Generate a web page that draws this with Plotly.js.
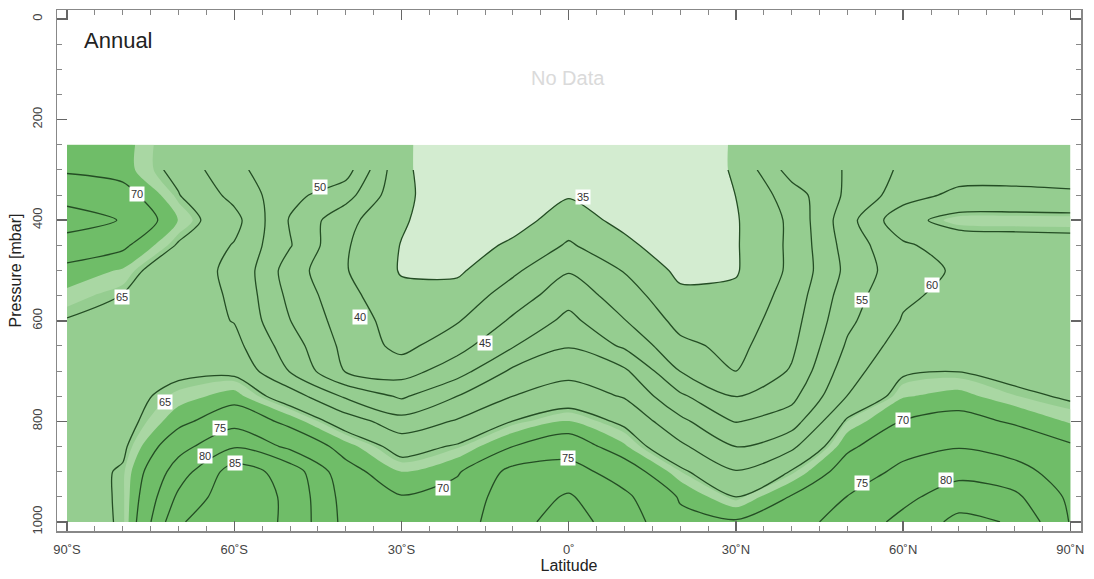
<!DOCTYPE html>
<html>
<head>
<meta charset="utf-8">
<script src="https://cdn.plot.ly/plotly-3.0.1.min.js"></script>
<style>html,body{margin:0;padding:0;background:#fff}#chart{width:1094px;height:579px}</style>
</head>
<body>
<div id="chart"></div>
<script>
// Latitude columns (deg, negative = south) and pressure rows (mbar)
const latitudes = [-90, -80, -70, -60, -50, -40, -30, -20, -10, 0, 10, 20, 30, 40, 50, 60, 70, 80, 90];
const pressureLevels = [300, 350, 400, 450, 500, 550, 600, 650, 700, 750, 800, 850, 900, 950, 1000];

// Annual field values, one array per pressure level
const p300  = [69.5, 68.3, 63.8, 55.7, 53.0, 52.2, 35.8, 32.0, 32.0, 32.0, 32.0, 32.0, 35.5, 47.3, 50.3, 56.0, 57.0, 57.3, 57.5];
const p350  = [73.0, 71.8, 65.2, 58.5, 51.5, 47.0, 36.0, 32.0, 33.0, 34.6, 32.5, 31.5, 35.05, 42.5, 51.0, 57.5, 61.5, 61.5, 60.8];
const p400  = [77.5, 74.7, 67.2, 61.7, 49.6, 41.5, 35.6, 31.5, 33.0, 37.5, 33.5, 31.5, 34.6, 41.0, 53.1, 63.7, 66.6, 66.7, 66.7];
const p450  = [72.5, 70.8, 64.6, 59.65, 50.35, 40.5, 34.8, 32.5, 35.9, 40.6, 36.3, 31.5, 34.6, 41.0, 52.1, 59.2, 62.5, 63.0, 63.4];
const p500  = [68.9, 67.0, 61.4, 59.4, 47.5, 40.3, 34.6, 34.2, 39.1, 44.6, 39.7, 33.8, 34.6, 41.0, 51.3, 58.15, 60.6, 61.5, 62.0];
const p550  = [66.6, 64.9, 62.0, 59.5, 48.7, 41.5, 36.3, 36.9, 42.4, 48.0, 42.5, 36.1, 36.0, 42.0, 52.7, 59.2, 61.4, 61.8, 61.8];
const p600  = [64.8, 64.2, 62.5, 59.8, 50.1, 42.5, 37.8, 39.6, 45.8, 51.4, 45.2, 38.4, 37.3, 43.0, 53.9, 60.4, 62.3, 62.2, 62.0];
const p650  = [64.2, 63.8, 63.3, 61.6, 52.4, 43.5, 38.5, 43.2, 49.7, 54.7, 49.2, 41.2, 38.6, 44.0, 55.7, 62.4, 63.3, 62.8, 62.5];
const p700  = [63.8, 63.6, 64.2, 64.1, 54.7, 44.6, 42.8, 47.8, 56.0, 58.4, 55.9, 44.9, 40.0, 45.5, 57.9, 64.4, 64.9, 63.7, 63.3];
const p750  = [63.5, 63.6, 66.3, 68.3, 62.6, 54.2, 49.2, 55.0, 60.0, 62.7, 59.6, 50.9, 44.7, 48.6, 60.1, 67.1, 68.1, 65.9, 64.5];
const p800  = [63.3, 63.5, 68.8, 73.2, 68.8, 62.8, 56.9, 60.5, 65.1, 67.5, 64.2, 56.2, 49.7, 52.6, 65.8, 70.2, 71.4, 69.5, 67.0];
const p850  = [63.2, 64.3, 73.2, 79.6, 73.9, 68.4, 63.3, 65.5, 70.0, 72.6, 67.7, 61.0, 54.7, 59.0, 69.2, 73.3, 74.7, 73.0, 70.5];
const p900  = [63.2, 65.4, 77.5, 87.5, 83.0, 71.5, 67.3, 69.5, 76.5, 77.1, 72.5, 65.9, 60.3, 65.3, 72.2, 76.2, 78.6, 76.8, 72.5];
const p950  = [63.3, 65.4, 81.0, 88.5, 84.0, 73.0, 70.2, 72.0, 77.5, 80.5, 76.0, 69.6, 65.0, 70.3, 75.1, 78.8, 82.5, 81.0, 74.0];
const p1000 = [63.5, 65.3, 84.5, 88.5, 84.0, 73.5, 71.0, 72.5, 78.5, 82.0, 77.5, 71.0, 70.5, 73.0, 77.0, 81.3, 86.4, 84.5, 74.7];

// Contour label values and where they sit (lat, mbar)
const labelText = ['70', '50', '35', '65', '40', '45', '55', '60', '65', '75', '80', '85', '70', '75', '70', '75', '80'];
const labelLat  = [-77.4, -44.6, 2.6, -80.1, -37.4, -15.0, 52.7, 65.1, -72.4, -62.5, -65.2, -59.8, -22.5, -0.1, 60.0, 52.7, 67.6];
const labelP    = [348, 334, 354, 553, 592, 644, 559, 529, 761, 813, 869, 883, 932, 873, 797, 922, 916];

// Axis ticks
const latTickVals = [-90, -60, -30, 0, 30, 60, 90];
const latTickText = ['90˚S', '60˚S', '30˚S', '0˚', '30˚N', '60˚N', '90˚N'];
const pTickVals = [0, 200, 400, 600, 800, 1000];
const shadedTop = 250; // shading reaches up to this level

const fieldRows = [p300, p350, p400, p450, p500, p550, p600, p650, p700, p750, p800, p850, p900, p950, p1000];
const fillY = [shadedTop].concat(pressureLevels);
const fillZ = [fieldRows[0]].concat(fieldRows);

const PALE = '#d3ecd0', MID = '#95cd90', DARK = '#6fbd68', HALO = '#a9d7a3';
const CLEAR = 'rgba(255,255,255,0)';

const traces = [
  {
    type: 'contour', x: latitudes, y: fillY, z: fillZ,
    contours: {start: 35, end: 67.5, size: 32.5, coloring: 'fill', showlines: false},
    colorscale: [[0, PALE], [0.25, PALE], [0.25, MID], [0.75, MID], [0.75, DARK], [1, DARK]],
    line: {width: 0, smoothing: 0.8}, showscale: false, hoverinfo: 'skip'
  },
  {
    type: 'contour', x: latitudes, y: fillY, z: fillZ,
    contours: {start: 65.8, end: 67.3, size: 1.5, coloring: 'fill', showlines: false},
    colorscale: [[0, CLEAR], [0.25, CLEAR], [0.25, HALO], [0.75, HALO], [0.75, DARK], [1, DARK]],
    line: {width: 0, smoothing: 0.8}, showscale: false, hoverinfo: 'skip'
  },
  {
    type: 'contour', x: latitudes, y: pressureLevels, z: fieldRows,
    contours: {start: 35, end: 85, size: 5, coloring: 'none', showlines: true},
    line: {color: '#244d24', width: 1.3, smoothing: 0.8}, showscale: false, hoverinfo: 'skip'
  }
];

const annotations = labelText.map((t, i) => ({
  x: labelLat[i], y: labelP[i], xref: 'x', yref: 'y', text: t, showarrow: false,
  bgcolor: '#ffffff', borderpad: 1, font: {size: 11, color: '#333', family: 'Liberation Sans, Arial, sans-serif'}
}));
annotations.push({xref: 'paper', yref: 'paper', x: 0.024, y: 0.942, xanchor: 'left', yanchor: 'middle',
  text: 'Annual', showarrow: false, font: {size: 22, color: '#222', family: 'Liberation Sans, Arial, sans-serif'}});
annotations.push({xref: 'paper', yref: 'paper', x: 0.499, y: 0.869, xanchor: 'center', yanchor: 'middle',
  text: 'No Data', showarrow: false, font: {size: 20, color: '#dadada', family: 'Liberation Sans, Arial, sans-serif'}});

const layout = {
  width: 1094, height: 579,
  margin: {l: 57, r: 13, t: 10, b: 48},
  paper_bgcolor: '#ffffff', plot_bgcolor: '#ffffff',
  font: {family: 'Liberation Sans, Arial, sans-serif', color: '#333'},
  showlegend: false,
  xaxis: {
    range: [-91.8, 91.9], tickvals: latTickVals, ticktext: latTickText,
    ticks: 'inside', ticklen: 10, tickwidth: 1.5, tickcolor: '#666',
    showline: true, linecolor: '#888', linewidth: 1.5, mirror: 'allticks',
    showgrid: false, zeroline: false, ticklabelstandoff: 6,
    minor: {dtick: 5, tick0: 0, ticks: 'inside', ticklen: 5, tickcolor: '#888', tickwidth: 1},
    tickfont: {size: 13, color: '#444'},
    title: {text: 'Latitude', font: {size: 16, color: '#222'}, standoff: 3}
  },
  yaxis: {
    range: [1018, -18], tickvals: pTickVals, tickangle: -90,
    ticks: 'inside', ticklen: 10, tickwidth: 1.5, tickcolor: '#666',
    showline: true, linecolor: '#888', linewidth: 1.5, mirror: 'allticks',
    showgrid: false, zeroline: false, ticklabelstandoff: 8,
    minor: {dtick: 50, tick0: 0, ticks: 'inside', ticklen: 5, tickcolor: '#888', tickwidth: 1},
    tickfont: {size: 13, color: '#444'},
    title: {text: 'Pressure [mbar]', font: {size: 16, color: '#222'}, standoff: 4}
  },
  annotations: annotations
};

Plotly.newPlot('chart', traces, layout, {staticPlot: true, displayModeBar: false});
</script>
</body>
</html>
